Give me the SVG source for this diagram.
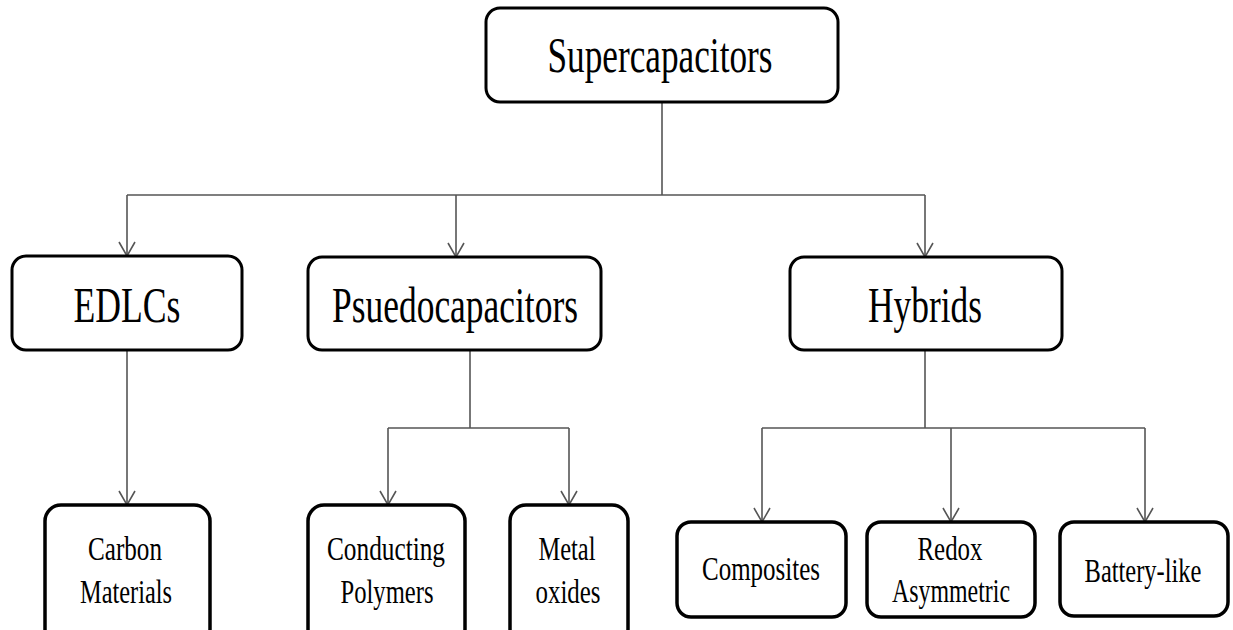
<svg xmlns="http://www.w3.org/2000/svg" width="1233" height="630" viewBox="0 0 1233 630">
<style>
.box{fill:#fff;stroke:#000;stroke-width:3}
.box2{fill:#fff;stroke:#000;stroke-width:3.5}
.big{font-family:"Liberation Serif","Times New Roman",serif;font-size:51px;fill:#000;text-anchor:middle}
.sm{font-family:"Liberation Serif","Times New Roman",serif;font-size:34px;fill:#000;text-anchor:middle}
.ln{fill:none;stroke:#555;stroke-width:1.6}
</style>
<defs>
<marker id="arr" viewBox="0 0 20 20" refX="18" refY="10" markerWidth="20" markerHeight="20" markerUnits="userSpaceOnUse" orient="auto">
<path d="M4,2 L18,10 L4,18" fill="none" stroke="#555" stroke-width="1.6"/>
</marker>
</defs>
<rect width="1233" height="630" fill="#fff"/>
<g id="connectors">
<path class="ln" d="M662,102 V195"/>
<path class="ln" d="M127,195 H925"/>
<path class="ln" d="M127,195 V256" marker-end="url(#arr)"/>
<path class="ln" d="M456,195 V257" marker-end="url(#arr)"/>
<path class="ln" d="M925,195 V257" marker-end="url(#arr)"/>
<path class="ln" d="M127,350 V505" marker-end="url(#arr)"/>
<path class="ln" d="M470,350 V428"/>
<path class="ln" d="M388,428 H569"/>
<path class="ln" d="M388,428 V505" marker-end="url(#arr)"/>
<path class="ln" d="M569,428 V505" marker-end="url(#arr)"/>
<path class="ln" d="M925,350 V428"/>
<path class="ln" d="M762,428 H1145"/>
<path class="ln" d="M762,428 V522" marker-end="url(#arr)"/>
<path class="ln" d="M951,428 V522" marker-end="url(#arr)"/>
<path class="ln" d="M1145,428 V522" marker-end="url(#arr)"/>
</g>
<g id="supercapacitors">
<rect class="box" x="486" y="8" width="352" height="94" rx="14"/>
<text class="big" x="660" y="72" textLength="225" lengthAdjust="spacingAndGlyphs">Supercapacitors</text>
</g>
<g id="edlcs">
<rect class="box" x="12" y="256" width="230" height="94" rx="14"/>
<text class="big" x="127" y="322" textLength="107" lengthAdjust="spacingAndGlyphs">EDLCs</text>
</g>
<g id="pseudocapacitors">
<rect class="box" x="308" y="257" width="293" height="93" rx="14"/>
<text class="big" x="455" y="322" textLength="246" lengthAdjust="spacingAndGlyphs">Psuedocapacitors</text>
</g>
<g id="hybrids">
<rect class="box" x="790" y="257" width="272" height="93" rx="14"/>
<text class="big" x="925" y="322" textLength="114" lengthAdjust="spacingAndGlyphs">Hybrids</text>
</g>
<g id="carbon">
<rect class="box2" x="45" y="505" width="165" height="140" rx="16"/>
<text class="sm" x="125" y="560" textLength="74" lengthAdjust="spacingAndGlyphs">Carbon</text>
<text class="sm" x="126" y="603" textLength="92" lengthAdjust="spacingAndGlyphs">Materials</text>
</g>
<g id="conducting">
<rect class="box2" x="308" y="505" width="157" height="140" rx="16"/>
<text class="sm" x="386" y="560" textLength="118" lengthAdjust="spacingAndGlyphs">Conducting</text>
<text class="sm" x="387" y="603" textLength="93" lengthAdjust="spacingAndGlyphs">Polymers</text>
</g>
<g id="metal">
<rect class="box2" x="510" y="505" width="118" height="140" rx="16"/>
<text class="sm" x="567" y="560" textLength="57" lengthAdjust="spacingAndGlyphs">Metal</text>
<text class="sm" x="568" y="603" textLength="65" lengthAdjust="spacingAndGlyphs">oxides</text>
</g>
<g id="composites">
<rect class="box2" x="677" y="522" width="169" height="95" rx="14"/>
<text class="sm" x="761" y="580" textLength="118" lengthAdjust="spacingAndGlyphs">Composites</text>
</g>
<g id="redox">
<rect class="box2" x="867" y="522" width="168" height="95" rx="14"/>
<text class="sm" x="950" y="560" textLength="65" lengthAdjust="spacingAndGlyphs">Redox</text>
<text class="sm" x="951" y="602" textLength="118" lengthAdjust="spacingAndGlyphs">Asymmetric</text>
</g>
<g id="battery">
<rect class="box2" x="1060" y="522" width="168" height="94" rx="14"/>
<text class="sm" transform="translate(1143,582) scale(0.72,1)" x="0" y="0">Battery-like</text>
</g>
</svg>
